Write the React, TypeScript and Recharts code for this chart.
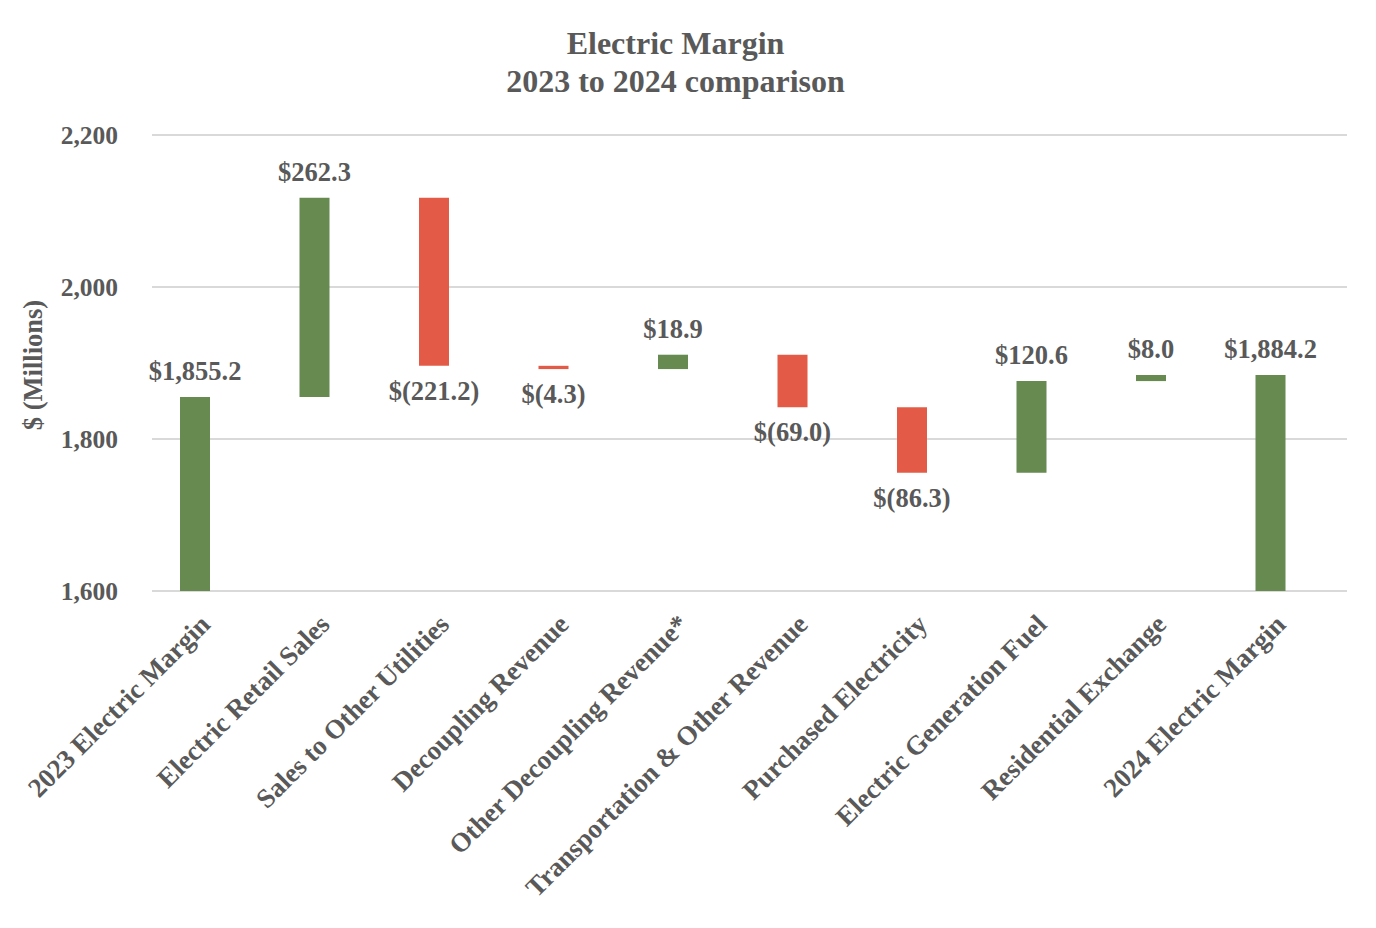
import React from "react";
import {
  BarChart,
  Bar,
  XAxis,
  YAxis,
  CartesianGrid,
  Cell,
  LabelList,
} from "recharts";

/* =======================
   Data
======================= */
const categories = [
  "2023 Electric Margin",
  "Electric Retail Sales",
  "Sales to Other Utilities",
  "Decoupling Revenue",
  "Other Decoupling Revenue*",
  "Transportation & Other Revenue",
  "Purchased Electricity",
  "Electric Generation Fuel",
  "Residential Exchange",
  "2024 Electric Margin",
];
const changes = [1855.2, 262.3, -221.2, -4.3, 18.9, -69.0, -86.3, 120.6, 8.0, 1884.2];
const isTotal = [true, false, false, false, false, false, false, false, false, true];
const yTicks = [1600, 1800, 2000, 2200];

const AXIS_MIN = 1600;
const GREEN = "#678A51";
const RED = "#E35B47";
const TEXT = "#595959";
const FONT = "'Liberation Serif', 'Times New Roman', serif";

/* =======================
   Utils
======================= */
const fmtLabel = (v: number, total: boolean) => {
  const abs = Math.abs(v).toLocaleString("en-US", {
    minimumFractionDigits: 1,
    maximumFractionDigits: 1,
  });
  if (total || v >= 0) return `$${abs}`;
  return `$(${abs})`;
};

// running totals -> [low, high] for each floating bar
const rows = (() => {
  let running = 0;
  return categories.map((name, i) => {
    const v = changes[i];
    let range: [number, number];
    if (isTotal[i]) {
      range = [AXIS_MIN, v];
      running = v;
    } else {
      const end = Math.round((running + v) * 10) / 10;
      range = [Math.min(running, end), Math.max(running, end)];
      running = end;
    }
    return {
      name,
      range,
      up: isTotal[i] || v >= 0,
      label: fmtLabel(v, isTotal[i]),
    };
  });
})();

/* =======================
   Custom renderers
======================= */
const CategoryTick = (props: any) => {
  const { x, y, payload } = props;
  const ax = x + 17;
  const ay = y + 35;
  return (
    <text
      x={ax}
      y={ay}
      transform={`rotate(-45, ${ax}, ${ay})`}
      textAnchor="end"
      fill={TEXT}
      fontSize={27}
      fontWeight="bold"
      fontFamily={FONT}
    >
      {payload.value}
    </text>
  );
};

const ValueLabel = (props: any) => {
  const { x, y, width, height, index } = props;
  const row = rows[index];
  const top = Math.min(y, y + height);
  const bottom = Math.max(y, y + height);
  const cx = x + width / 2;
  const ty = row.up ? top - 17 : bottom + 34;
  return (
    <text
      x={cx}
      y={ty}
      textAnchor="middle"
      fill={TEXT}
      fontSize={26.5}
      fontWeight="bold"
      fontFamily={FONT}
    >
      {row.label}
    </text>
  );
};

const AxisTitle = () => {
  const cx = 33;
  const cy = 365;
  return (
    <text
      x={cx}
      y={cy}
      transform={`rotate(-90, ${cx}, ${cy})`}
      textAnchor="middle"
      dominantBaseline="central"
      fill={TEXT}
      fontSize={26.5}
      fontWeight="bold"
      fontFamily={FONT}
    >
      $ (Millions)
    </text>
  );
};

/* =======================
   Component
======================= */
export default function App() {
  return (
    <div
      style={{
        position: "absolute",
        left: 0,
        top: 0,
        width: 1376,
        height: 928,
        background: "#fff",
        fontFamily: FONT,
      }}
    >
      {/* ================= Title ================= */}
      <div
        style={{
          position: "absolute",
          left: 0,
          top: 24,
          width: 1351,
          textAlign: "center",
          fontSize: 32,
          lineHeight: "38px",
          fontWeight: "bold",
          color: TEXT,
        }}
      >
        Electric Margin
        <br />
        2023 to 2024 comparison
      </div>

      {/* ================= Chart ================= */}
      <BarChart
        width={1376}
        height={928}
        data={rows}
        margin={{ top: 135, right: 29, bottom: 37, left: 52 }}
      >
        <CartesianGrid vertical={false} stroke="#D9D9D9" strokeWidth={2} />
        <XAxis
          dataKey="name"
          interval={0}
          height={300}
          axisLine={false}
          tickLine={false}
          tickSize={0}
          tickMargin={0}
          padding={{ left: -17, right: 17 }}
          tick={<CategoryTick />}
        />
        <YAxis
          width={100}
          domain={[1600, 2200]}
          ticks={yTicks}
          axisLine={false}
          tickLine={false}
          tickSize={0}
          tickMargin={34}
          tickFormatter={(v: number) => v.toLocaleString("en-US")}
          tick={{ fill: TEXT, fontSize: 25.5, fontWeight: "bold", fontFamily: FONT }}
          label={<AxisTitle />}
        />
        <Bar dataKey="range" barSize={30} isAnimationActive={false}>
          {rows.map((r, i) => (
            <Cell key={i} fill={r.up ? GREEN : RED} />
          ))}
          <LabelList dataKey="label" content={<ValueLabel />} />
        </Bar>
      </BarChart>
    </div>
  );
}
